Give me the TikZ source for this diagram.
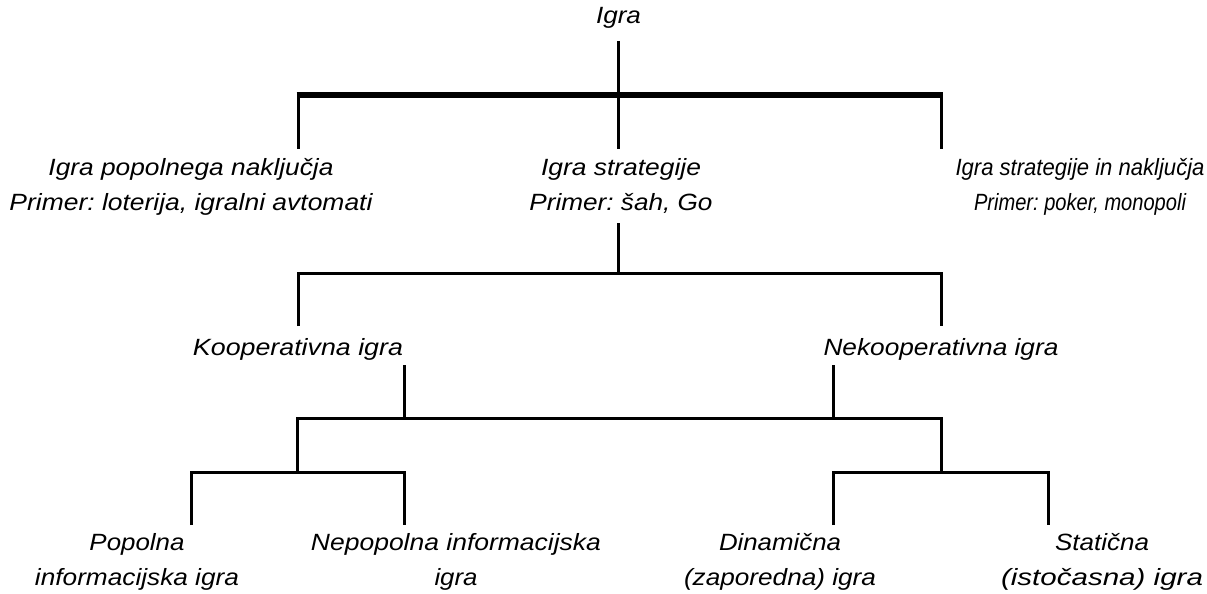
\documentclass[tikz,border=0pt]{standalone}
\usepackage{fontspec}
\setmainfont{Liberation Sans}
\usepackage{graphicx}
\frenchspacing
% stretch a line of text horizontally to a given width (in pt), keeping its height
\newcommand{\wbox}[2]{\resizebox{#1pt}{\height}{#2}}
\newcommand{\twoline}[2]{\begin{tabular}[t]{@{}c@{}}#1\\#2\end{tabular}}

\begin{document}
\begin{tikzpicture}[x=1pt,y=-1pt,
  lbl/.style={inner sep=0pt, anchor=base, font=\fontsize{23.5}{35}\selectfont\itshape},
  link/.style={line width=3pt, line join=miter, line cap=butt},
  bar/.style={line width=5.5pt, line cap=butt}]
\useasboundingbox (0,0) rectangle (1207,594);

% ---- labels ----
\node[lbl] (igra) at (618.5,24) {\wbox{45}{Igra}};

\node[lbl] (chance) at (191,175)
  {\twoline{\wbox{285}{Igra popolnega naključja}}{\wbox{363}{Primer: loterija, igralni avtomati}}};
\node[lbl] (strategy) at (621,175)
  {\twoline{\wbox{160}{Igra strategije}}{\wbox{183}{Primer: šah, Go}}};
\node[lbl] (mixed) at (1080,175)
  {\twoline{\wbox{249}{Igra strategije in naključja}}{\wbox{212}{Primer: poker, monopoli}}};

\node[lbl] (coop) at (298,355) {\wbox{210}{Kooperativna igra}};
\node[lbl] (noncoop) at (941,355) {\wbox{235}{Nekooperativna igra}};

\node[lbl] (perfect) at (137,550)
  {\twoline{\wbox{95}{Popolna}}{\wbox{204}{informacijska igra}}};
\node[lbl] (imperfect) at (456,550)
  {\twoline{\wbox{290}{Nepopolna informacijska}}{\wbox{43}{igra}}};
\node[lbl] (dynamic) at (780,550)
  {\twoline{\wbox{122}{Dinamična}}{\wbox{192}{(zaporedna) igra}}};
\node[lbl] (static) at (1102,550)
  {\twoline{\wbox{94}{Statična}}{\wbox{202}{(istočasna) igra}}};

% ---- connector end points ----
\coordinate (igraB)   at (618,41);
\coordinate (barL)    at (296.5,95);
\coordinate (barR)    at (942.5,95);
\coordinate (chanceJ) at (298,95);
\coordinate (chanceT) at (298,149);
\coordinate (stratT)  at (618,149);
\coordinate (mixedJ)  at (941,95);
\coordinate (mixedT)  at (941,149);

\coordinate (stratB)  at (618,223);
\coordinate (split1)  at (618,273);
\coordinate (coopT)   at (298,326);
\coordinate (noncoopT) at (941,326);

\coordinate (coopB)    at (404,365);
\coordinate (coopJ)    at (404,418);
\coordinate (noncoopB) at (833,365);
\coordinate (noncoopJ) at (833,418);
\coordinate (infoJ)    at (297,472);
\coordinate (timeJ)    at (941,472);

\coordinate (perfectT)   at (191,525);
\coordinate (imperfectT) at (404,525);
\coordinate (dynamicT)   at (833,525);
\coordinate (staticT)    at (1048,525);

% ---- level 1 ----
\draw[bar] (barL) -- (barR);
\draw[link] (igraB) -- (stratT);
\draw[link] (chanceJ) -- (chanceT);
\draw[link] (mixedJ) -- (mixedT);

% ---- level 2 ----
\draw[link] (stratB) -- (split1);
\draw[link] (coopT) |- (split1) -| (noncoopT);

% ---- level 3 ----
\draw[link] (coopB) -- (coopJ);
\draw[link] (noncoopB) -- (noncoopJ);
\draw[link] (infoJ) |- (coopJ) -| (timeJ);

% ---- level 4 ----
\draw[link] (perfectT) |- (infoJ) -| (imperfectT);
\draw[link] (dynamicT) |- (timeJ) -| (staticT);
\end{tikzpicture}
\end{document}
